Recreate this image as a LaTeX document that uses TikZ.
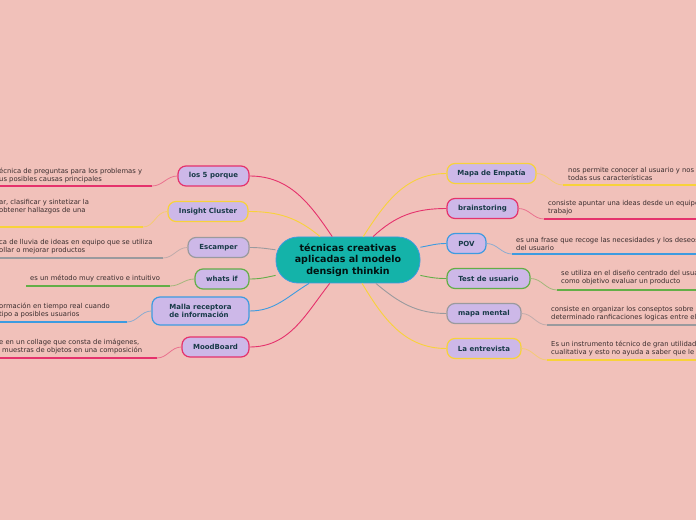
\documentclass[tikz,border=0pt]{standalone}
\usepackage{fontspec}
\setmainfont{DejaVu Sans}

\definecolor{fondo}{HTML}{F1C1BA}
\definecolor{lila}{HTML}{CDB8E8}
\definecolor{turquesa}{HTML}{14B3A9}
\definecolor{rosa}{HTML}{E5326C}
\definecolor{amarillo}{HTML}{F8D23A}
\definecolor{gris}{HTML}{9A9A9E}
\definecolor{verde}{HTML}{63AE47}
\definecolor{azul}{HTML}{3D9BE0}
\definecolor{tinta}{HTML}{183A48}
\definecolor{letra}{HTML}{3A2D2E}

\begin{document}
\begin{tikzpicture}[
    x=1pt,y=1pt,
    centro/.style={rectangle,draw=azul,fill=turquesa,line width=0.8pt,rounded corners=22pt,
      minimum width=144pt,minimum height=46pt,align=center,text=black!90!turquesa,
      font=\fontsize{9.5}{11.5}\selectfont\bfseries},
    tema/.style={rectangle,draw=#1,fill=lila,line width=1.2pt,rounded corners=8pt,
      minimum height=20pt,inner sep=0pt,align=center,text=tinta,
      font=\fontsize{7}{8.5}\selectfont\bfseries},
    hoja/.style={anchor=west,inner sep=0pt,align=left,text=letra,
      font=\fontsize{6.8}{8}\selectfont},
    rama/.style={draw=#1,line width=0.9pt},
    raya/.style={draw=#1,line width=1.6pt},
    ramita/.style={draw=#1!55!fondo,line width=0.8pt}
]
\useasboundingbox (0,0) rectangle (696,520);
\fill[fondo] (0,0) rectangle (696,520);
\clip (0,0) rectangle (696,520);

% idea central
\node[centro] (c) at (348,260) {técnicas creativas\\aplicadas al modelo\\densign thinkin};

% temas de la izquierda
\node[tema=rosa,minimum width=71pt] (porque) at (213.5,344) {los 5 porque};
\node[tema=amarillo,minimum width=80pt] (insight) at (208,308.5) {Insight Cluster};
\node[tema=gris,minimum width=61pt] (escamper) at (218.5,272.5) {Escamper};
\node[tema=verde,minimum width=54pt] (whats) at (222,241) {whats if};
\node[tema=azul,minimum width=97pt,minimum height=28pt,align=left] (malla) at (200.5,209) {Malla receptora\\de información};
\node[tema=rosa,minimum width=67pt] (mood) at (215.5,173) {MoodBoard};

% temas de la derecha
\node[tema=amarillo,minimum width=89pt] (empatia) at (491.5,346.5) {Mapa de Empatía};
\node[tema=rosa,minimum width=71pt] (brain) at (482.5,311.5) {brainstoring};
\node[tema=azul,minimum width=39pt] (pov) at (466.5,276.5) {POV};
\node[tema=verde,minimum width=83pt] (test) at (488.5,241.5) {Test de usuario};
\node[tema=gris,minimum width=74pt] (mental) at (484,206.5) {mapa mental};
\node[tema=amarillo,minimum width=74pt] (entrevista) at (484,171.5) {La entrevista};

% ramas principales
\draw[rama=rosa] (porque.east) to[out=0,in=124] (c.124);
\draw[rama=amarillo] (insight.east) to[out=0,in=140] (c.140);
\draw[rama=gris] (escamper.east) to[out=0,in=172] (c.172);
\draw[rama=verde] (whats.east) to[out=0,in=192] (c.192);
\draw[rama=azul] (malla.east) to[out=0,in=211] (c.211);
\draw[rama=rosa] (mood.east) to[out=0,in=232] (c.232);
\draw[rama=amarillo] (empatia.west) to[out=180,in=57] (c.57);
\draw[rama=rosa] (brain.west) to[out=180,in=43] (c.43);
\draw[rama=azul] (pov.west) to[out=180,in=10] (c.10);
\draw[rama=verde] (test.west) to[out=180,in=348] (c.348);
\draw[rama=gris] (mental.west) to[out=180,in=320] (c.320);
\draw[rama=amarillo] (entrevista.west) to[out=180,in=301] (c.301);

% notas de la izquierda
\node[hoja] (tporque) at (-1,345) {écnica de preguntas para los problemas y\\us posibles causas principales};
\coordinate (uporque) at (152,334);
\draw[raya=rosa] (uporque) -- ++(-160,0);
\draw[ramita=rosa] (uporque) to[out=0,in=180] (porque.west);

\node[hoja] (tinsight) at (-1,313) {ar, clasificar y sintetizar la\\obtener hallazgos de una};
\coordinate (uinsight) at (143,293);
\draw[raya=amarillo] (uinsight) -- ++(-150,0);
\draw[ramita=amarillo] (uinsight) to[out=0,in=180] (insight.west);

\node[hoja] (tescamper) at (-1,273) {ca de lluvia de ideas en equipo que se utiliza\\ollar o mejorar productos};
\coordinate (uescamper) at (163,262);
\draw[raya=gris] (uescamper) -- ++(-170,0);
\draw[ramita=gris] (uescamper) to[out=0,in=180] (escamper.west);

\node[hoja] (twhats) at (30,242) {es un método muy creativo e intuitivo};
\coordinate (uwhats) at (170,234);
\draw[raya=verde] (uwhats) -- ++(-144,0);
\draw[ramita=verde] (uwhats) to[out=0,in=180] (whats.west);

\node[hoja] (tmalla) at (-1,210) {ormación en tiempo real cuando\\tipo a posibles usuarios};
\coordinate (umalla) at (127,198);
\draw[raya=azul] (umalla) -- ++(-135,0);
\draw[ramita=azul] (umalla) to[out=0,in=180] (malla.west);

\node[hoja] (tmood) at (-1,173.5) {e en un collage que consta de imágenes,\\\hspace{3pt}muestras de objetos en una composición};
\coordinate (umood) at (157,162);
\draw[raya=rosa] (umood) -- ++(-165,0);
\draw[ramita=rosa] (umood) to[out=0,in=180] (mood.west);

% notas de la derecha
\node[hoja] (tempatia) at (568,346) {nos permite conocer al usuario y nos pe\\todas sus características};
\coordinate (uempatia) at (563,335);
\draw[raya=amarillo] (uempatia) -- ++(140,0);
\draw[ramita=amarillo] (empatia.east) to[out=0,in=180] (uempatia);

\node[hoja] (tbrain) at (548,312) {consiste apuntar una ideas desde un equipo d\\trabajo};
\coordinate (ubrain) at (544,301);
\draw[raya=rosa] (ubrain) -- ++(160,0);
\draw[ramita=rosa] (brain.east) to[out=0,in=180] (ubrain);

\node[hoja] (tpov) at (516,276) {es una frase que recoge las necesidades y los deseos\\del usuario};
\coordinate (upov) at (512,266);
\draw[raya=azul] (upov) -- ++(190,0);
\draw[ramita=azul] (pov.east) to[out=0,in=180] (upov);

\node[hoja] (ttest) at (561,242) {se utiliza en el diseño centrado del usuario\\como objetivo evaluar un producto};
\coordinate (utest) at (557,230);
\draw[raya=verde] (utest) -- ++(145,0);
\draw[ramita=verde] (test.east) to[out=0,in=180] (utest);

\node[hoja] (tmental) at (551,206) {consiste en organizar los conseptos sobre un\\determinado ranficaciones logicas entre ellos};
\coordinate (umental) at (547,195);
\draw[raya=gris] (umental) -- ++(155,0);
\draw[ramita=gris] (mental.east) to[out=0,in=180] (umental);

\node[hoja] (tentrevista) at (551,172) {Es un instrumento técnico de gran utilidad e\\cualitativa y esto no ayuda a saber que le g};
\coordinate (uentrevista) at (547,160);
\draw[raya=amarillo] (uentrevista) -- ++(155,0);
\draw[ramita=amarillo] (entrevista.east) to[out=0,in=180] (uentrevista);
\end{tikzpicture}
\end{document}
